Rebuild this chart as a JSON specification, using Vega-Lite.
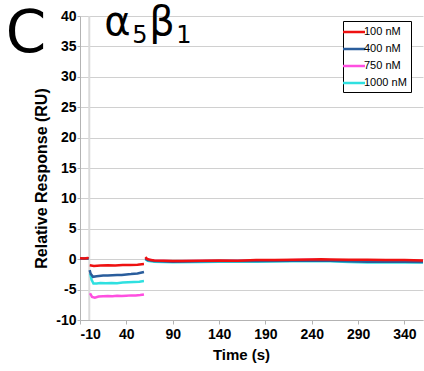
{
  "$schema": "https://vega.github.io/schema/vega-lite/v6.json",
  "width": 343,
  "height": 304,
  "autosize": {"type": "none"},
  "padding": {"left": 80, "top": 16, "right": 1, "bottom": 51},
  "background": "white",
  "config": {
    "view": {"stroke": null},
    "axis": {
      "labelFont": "Liberation Sans", "labelFontWeight": "bold", "labelFontSize": 14, "labelColor": "black",
      "titleFont": "Liberation Sans", "titleFontWeight": "bold", "titleFontSize": 15, "titleColor": "black",
      "domainColor": "#b3b3b3", "tickColor": "#b3b3b3", "gridColor": "#d0d0d0"
    },
    "legend": {
      "labelFont": "Liberation Sans", "labelFontSize": 11, "labelColor": "black"
    }
  },
  "datasets": {
    "curves": [
      {"s": "750 nM", "p": "b", "t": -10, "v": 0.1},
      {"s": "750 nM", "p": "b", "t": -0.7, "v": 0.1},
      {"s": "750 nM", "p": "a", "t": 0.8, "v": -5.6},
      {"s": "750 nM", "p": "a", "t": 3, "v": -6.2},
      {"s": "750 nM", "p": "a", "t": 6, "v": -6.35},
      {"s": "750 nM", "p": "a", "t": 10, "v": -6.15},
      {"s": "750 nM", "p": "a", "t": 15, "v": -6.1},
      {"s": "750 nM", "p": "a", "t": 20, "v": -6.05},
      {"s": "750 nM", "p": "a", "t": 25, "v": -6.1},
      {"s": "750 nM", "p": "a", "t": 30, "v": -6.0},
      {"s": "750 nM", "p": "a", "t": 35, "v": -6.05},
      {"s": "750 nM", "p": "a", "t": 40, "v": -6.0},
      {"s": "750 nM", "p": "a", "t": 45, "v": -5.95},
      {"s": "750 nM", "p": "a", "t": 50, "v": -5.95},
      {"s": "750 nM", "p": "a", "t": 55, "v": -5.9},
      {"s": "750 nM", "p": "a", "t": 59, "v": -5.8},
      {"s": "750 nM", "p": "d", "t": 60.5, "v": 0.2},
      {"s": "750 nM", "p": "d", "t": 63, "v": -0.05},
      {"s": "750 nM", "p": "d", "t": 70, "v": -0.25},
      {"s": "750 nM", "p": "d", "t": 90, "v": -0.35},
      {"s": "750 nM", "p": "d", "t": 120, "v": -0.3},
      {"s": "750 nM", "p": "d", "t": 160, "v": -0.3},
      {"s": "750 nM", "p": "d", "t": 200, "v": -0.2},
      {"s": "750 nM", "p": "d", "t": 240, "v": -0.1},
      {"s": "750 nM", "p": "d", "t": 280, "v": -0.2},
      {"s": "750 nM", "p": "d", "t": 320, "v": -0.25},
      {"s": "750 nM", "p": "d", "t": 360, "v": -0.3},

      {"s": "1000 nM", "p": "b", "t": -10, "v": 0.1},
      {"s": "1000 nM", "p": "b", "t": -0.7, "v": 0.1},
      {"s": "1000 nM", "p": "a", "t": 1, "v": -2.4},
      {"s": "1000 nM", "p": "a", "t": 2.5, "v": -3.4},
      {"s": "1000 nM", "p": "a", "t": 4.5, "v": -4.0},
      {"s": "1000 nM", "p": "a", "t": 8, "v": -4.0},
      {"s": "1000 nM", "p": "a", "t": 12, "v": -3.9},
      {"s": "1000 nM", "p": "a", "t": 18, "v": -3.95},
      {"s": "1000 nM", "p": "a", "t": 24, "v": -3.9},
      {"s": "1000 nM", "p": "a", "t": 30, "v": -3.95},
      {"s": "1000 nM", "p": "a", "t": 36, "v": -3.85},
      {"s": "1000 nM", "p": "a", "t": 42, "v": -3.8},
      {"s": "1000 nM", "p": "a", "t": 48, "v": -3.75},
      {"s": "1000 nM", "p": "a", "t": 54, "v": -3.7},
      {"s": "1000 nM", "p": "a", "t": 59, "v": -3.6},
      {"s": "1000 nM", "p": "d", "t": 60.5, "v": 0.0},
      {"s": "1000 nM", "p": "d", "t": 63, "v": -0.25},
      {"s": "1000 nM", "p": "d", "t": 70, "v": -0.4},
      {"s": "1000 nM", "p": "d", "t": 90, "v": -0.5},
      {"s": "1000 nM", "p": "d", "t": 120, "v": -0.45},
      {"s": "1000 nM", "p": "d", "t": 140, "v": -0.4},
      {"s": "1000 nM", "p": "d", "t": 180, "v": -0.4},
      {"s": "1000 nM", "p": "d", "t": 220, "v": -0.35},
      {"s": "1000 nM", "p": "d", "t": 240, "v": -0.3},
      {"s": "1000 nM", "p": "d", "t": 260, "v": -0.35},
      {"s": "1000 nM", "p": "d", "t": 280, "v": -0.45},
      {"s": "1000 nM", "p": "d", "t": 300, "v": -0.55},
      {"s": "1000 nM", "p": "d", "t": 320, "v": -0.55},
      {"s": "1000 nM", "p": "d", "t": 340, "v": -0.5},
      {"s": "1000 nM", "p": "d", "t": 360, "v": -0.55},

      {"s": "400 nM", "p": "b", "t": -10, "v": 0.1},
      {"s": "400 nM", "p": "b", "t": -0.7, "v": 0.1},
      {"s": "400 nM", "p": "a", "t": 0.4, "v": -1.8},
      {"s": "400 nM", "p": "a", "t": 1.5, "v": -2.4},
      {"s": "400 nM", "p": "a", "t": 4, "v": -2.9},
      {"s": "400 nM", "p": "a", "t": 8, "v": -2.8},
      {"s": "400 nM", "p": "a", "t": 15, "v": -2.7},
      {"s": "400 nM", "p": "a", "t": 20, "v": -2.7},
      {"s": "400 nM", "p": "a", "t": 25, "v": -2.65},
      {"s": "400 nM", "p": "a", "t": 30, "v": -2.6},
      {"s": "400 nM", "p": "a", "t": 35, "v": -2.6},
      {"s": "400 nM", "p": "a", "t": 40, "v": -2.5},
      {"s": "400 nM", "p": "a", "t": 45, "v": -2.45},
      {"s": "400 nM", "p": "a", "t": 52, "v": -2.35},
      {"s": "400 nM", "p": "a", "t": 59, "v": -2.1},
      {"s": "400 nM", "p": "d", "t": 60.5, "v": 0.1},
      {"s": "400 nM", "p": "d", "t": 63, "v": -0.15},
      {"s": "400 nM", "p": "d", "t": 70, "v": -0.3},
      {"s": "400 nM", "p": "d", "t": 90, "v": -0.4},
      {"s": "400 nM", "p": "d", "t": 120, "v": -0.35},
      {"s": "400 nM", "p": "d", "t": 140, "v": -0.3},
      {"s": "400 nM", "p": "d", "t": 180, "v": -0.3},
      {"s": "400 nM", "p": "d", "t": 220, "v": -0.25},
      {"s": "400 nM", "p": "d", "t": 240, "v": -0.2},
      {"s": "400 nM", "p": "d", "t": 260, "v": -0.25},
      {"s": "400 nM", "p": "d", "t": 280, "v": -0.35},
      {"s": "400 nM", "p": "d", "t": 300, "v": -0.4},
      {"s": "400 nM", "p": "d", "t": 320, "v": -0.4},
      {"s": "400 nM", "p": "d", "t": 340, "v": -0.4},
      {"s": "400 nM", "p": "d", "t": 360, "v": -0.45},

      {"s": "100 nM", "p": "b", "t": -10, "v": 0.15},
      {"s": "100 nM", "p": "b", "t": -5, "v": 0.1},
      {"s": "100 nM", "p": "b", "t": -2, "v": 0.2},
      {"s": "100 nM", "p": "b", "t": -0.7, "v": 0.15},
      {"s": "100 nM", "p": "a", "t": 0.5, "v": -1.0},
      {"s": "100 nM", "p": "a", "t": 5, "v": -1.1},
      {"s": "100 nM", "p": "a", "t": 12, "v": -1.05},
      {"s": "100 nM", "p": "a", "t": 20, "v": -1.0},
      {"s": "100 nM", "p": "a", "t": 28, "v": -1.05},
      {"s": "100 nM", "p": "a", "t": 36, "v": -0.95},
      {"s": "100 nM", "p": "a", "t": 44, "v": -0.95},
      {"s": "100 nM", "p": "a", "t": 52, "v": -0.9},
      {"s": "100 nM", "p": "a", "t": 59, "v": -0.8},
      {"s": "100 nM", "p": "d", "t": 60.5, "v": 0.35},
      {"s": "100 nM", "p": "d", "t": 62, "v": 0.1},
      {"s": "100 nM", "p": "d", "t": 65, "v": -0.1},
      {"s": "100 nM", "p": "d", "t": 70, "v": -0.2},
      {"s": "100 nM", "p": "d", "t": 80, "v": -0.25},
      {"s": "100 nM", "p": "d", "t": 90, "v": -0.3},
      {"s": "100 nM", "p": "d", "t": 100, "v": -0.3},
      {"s": "100 nM", "p": "d", "t": 120, "v": -0.25},
      {"s": "100 nM", "p": "d", "t": 140, "v": -0.2},
      {"s": "100 nM", "p": "d", "t": 160, "v": -0.25},
      {"s": "100 nM", "p": "d", "t": 180, "v": -0.15},
      {"s": "100 nM", "p": "d", "t": 200, "v": -0.15},
      {"s": "100 nM", "p": "d", "t": 220, "v": -0.1},
      {"s": "100 nM", "p": "d", "t": 240, "v": -0.05},
      {"s": "100 nM", "p": "d", "t": 250, "v": 0.0},
      {"s": "100 nM", "p": "d", "t": 260, "v": -0.05},
      {"s": "100 nM", "p": "d", "t": 280, "v": -0.1},
      {"s": "100 nM", "p": "d", "t": 300, "v": -0.1},
      {"s": "100 nM", "p": "d", "t": 320, "v": -0.15},
      {"s": "100 nM", "p": "d", "t": 340, "v": -0.15},
      {"s": "100 nM", "p": "d", "t": 360, "v": -0.2}
    ],
    "labels": [
      {"txt": "C", "t": -90, "v": 34.1, "kind": "big"},
      {"txt": "α", "t": 30.5, "v": 36.9, "kind": "greek"},
      {"txt": "β", "t": 78.6, "v": 36.9, "kind": "greek"},
      {"txt": "5", "t": 54.7, "v": 35.55, "kind": "sub"},
      {"txt": "1", "t": 102.2, "v": 35.55, "kind": "sub"}
    ],
    "zero": [{"t": 0, "v": -10, "v2": 40}]
  },
  "encoding": {
    "x": {
      "field": "t", "type": "quantitative",
      "scale": {"domain": [-10, 360], "nice": false, "zero": false},
      "axis": {
        "title": "Time (s)", "values": [-10, 40, 90, 140, 190, 240, 290, 340],
        "labelExpr": "'' + datum.value",
        "grid": false, "tickSize": 4, "labelPadding": 3, "titlePadding": 6, "titleX": 161
      }
    },
    "y": {
      "field": "v", "type": "quantitative",
      "scale": {"domain": [-10, 40], "nice": false, "zero": false},
      "axis": {
        "title": "Relative Response (RU)", "values": [-10, -5, 0, 5, 10, 15, 20, 25, 30, 35, 40],
        "labelExpr": "'' + datum.value", "labelOverlap": false, "titleFontSize": 16,
        "grid": true, "tickSize": 3, "labelPadding": 1, "titlePadding": 6, "titleY": 162
      }
    }
  },
  "layer": [
    {
      "data": {"name": "zero"},
      "mark": {"type": "rule", "color": "#dadada", "strokeWidth": 2},
      "encoding": {"y2": {"field": "v2"}}
    },
    {
      "data": {"name": "curves"},
      "mark": {"type": "line", "strokeWidth": 2.5, "interpolate": "linear"},
      "encoding": {
        "color": {
          "field": "s", "type": "nominal",
          "scale": {
            "domain": ["100 nM", "400 nM", "750 nM", "1000 nM"],
            "range": ["#ee1111", "#2a5d9c", "#ff4fe0", "#2fe0e0"]
          },
          "legend": {
            "title": null, "orient": "none", "legendX": 263, "legendY": 5,
            "fillColor": "white", "strokeColor": "black", "padding": 4,
            "symbolType": "M-2,0L2,0", "symbolSize": 121, "symbolStrokeWidth": 2.5,
            "labelOffset": 3, "rowPadding": 5
          }
        },
        "detail": {"field": "p", "type": "nominal"},
        "order": {"field": "t", "type": "quantitative"}
      }
    },
    {
      "data": {"name": "labels"},
      "transform": [{"filter": "datum.kind == 'big'"}],
      "mark": {"type": "text", "font": "DejaVu Sans", "fontSize": 58, "align": "left", "baseline": "alphabetic", "color": "black"},
      "encoding": {"text": {"field": "txt"}}
    },
    {
      "data": {"name": "labels"},
      "transform": [{"filter": "datum.kind == 'greek'"}],
      "mark": {"type": "text", "font": "DejaVu Sans", "fontSize": 40, "align": "center", "baseline": "alphabetic", "color": "black"},
      "encoding": {"text": {"field": "txt"}}
    },
    {
      "data": {"name": "labels"},
      "transform": [{"filter": "datum.kind == 'sub'"}],
      "mark": {"type": "text", "font": "DejaVu Sans", "fontSize": 24, "align": "center", "baseline": "alphabetic", "color": "black"},
      "encoding": {"text": {"field": "txt"}}
    }
  ]
}
